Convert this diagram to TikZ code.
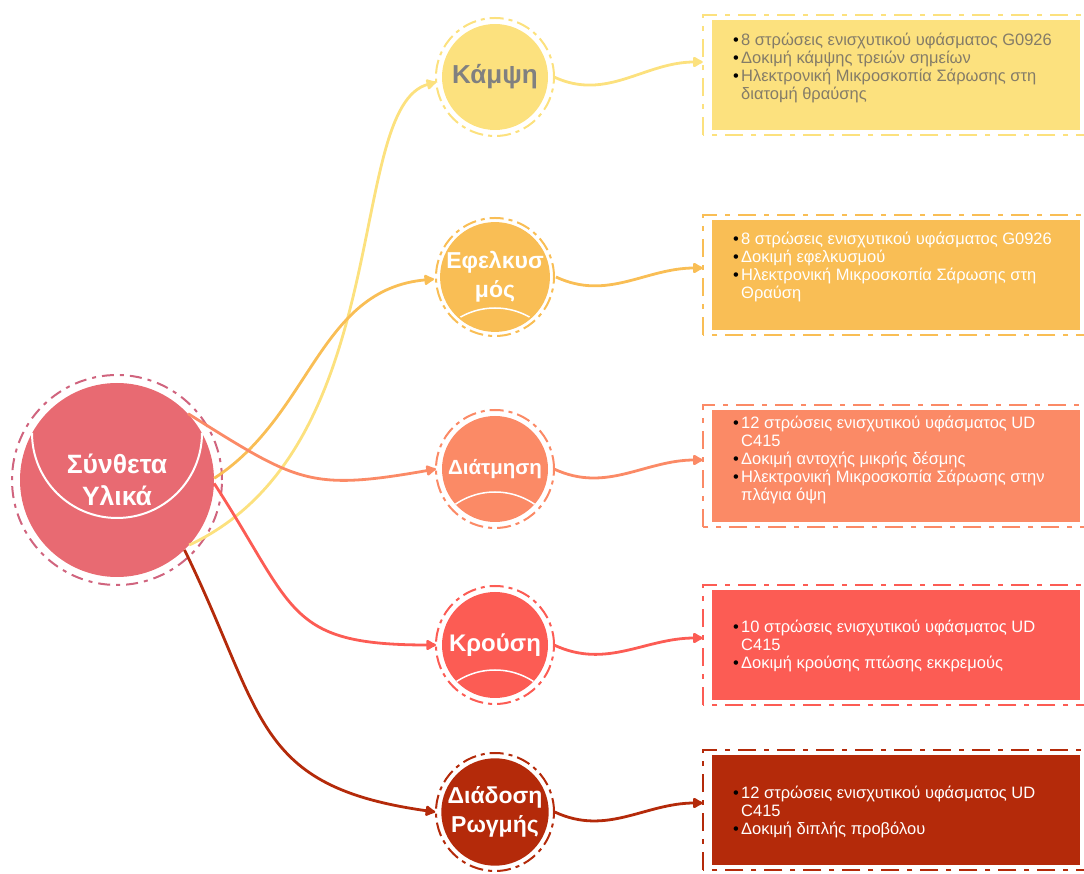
\documentclass[tikz,border=0pt]{standalone}
\usepackage{fontspec}
\setmainfont{Liberation Sans}
\usepackage{tikz}
\usetikzlibrary{calc,arrows.meta}

\definecolor{mainred}{HTML}{E86A72}
\definecolor{mainring}{HTML}{D0647E}
\definecolor{bendcol}{HTML}{FCE17E}
\definecolor{bendtext}{HTML}{847C68}
\definecolor{tenscol}{HTML}{F9BE55}
\definecolor{shearcol}{HTML}{FB8A66}
\definecolor{impcol}{HTML}{FC5C54}
\definecolor{crackcol}{HTML}{B42A0A}

\newcommand{\bul}{\makebox[8pt][l]{\textcolor{black}{•}}}
\newcommand{\ind}{\hspace*{8pt}}

\begin{document}
\begin{tikzpicture}[x=1pt,y=1pt,
    ball/.style={circle,minimum size=106pt,inner sep=0pt,outer sep=6pt,text=white,align=center},
    ring/.style={line width=2pt,dash pattern=on 14pt off 5pt on 4pt off 5pt},
    card/.style={rectangle,minimum width=368pt,minimum height=110pt,inner sep=0pt},
    cardline/.style={line width=2pt,dash pattern=on 18pt off 8pt on 5pt off 8pt},
    cardtext/.style={anchor=west,align=left,text=white,inner sep=0pt,
                     font=\fontsize{16.5}{18}\selectfont},
    link/.style={line width=2.8pt,-{Latex[length=12pt,width=13pt,round]}}]

    \useasboundingbox (0,0) rectangle (1084,873);

    % main circle
    \node[circle,fill=mainred,minimum size=194pt,inner sep=0pt,text=white,align=center,
          font=\fontsize{26.5}{32}\selectfont\bfseries] (main) at (117,393) {Σύνθετα\\Υλικά};
    \draw[white,line width=2pt] (32,440) arc (180:360:85);
    \draw[mainring,line width=2pt,dash pattern=on 12pt off 6pt on 4pt off 6pt] (main.center) circle (105);

    % test circles
    \node[ball,fill=bendcol,text=gray,font=\fontsize{26}{28}\selectfont\bfseries] (bend) at (495,796) {Κάμψη};
    \node[ball,fill=tenscol,font=\fontsize{23}{29}\selectfont\bfseries] (tens) at (495,596) {Εφελκυσ\\μός};
    \node[ball,fill=shearcol,font=\fontsize{20.5}{22}\selectfont\bfseries] (shear) at (495,404) {Διάτμηση};
    \node[ball,fill=impcol,font=\fontsize{24}{26}\selectfont\bfseries] (imp) at (495,228) {Κρούση};
    \node[ball,fill=crackcol,font=\fontsize{23}{29}\selectfont\bfseries] (crack) at (495,61) {Διάδοση\\Ρωγμής};

    \foreach \n/\d in {tens/31,shear/23,imp/25} {
        \begin{scope}
            \clip (\n.center) circle (53);
            \draw[white,line width=1.5pt] ($(\n.center)+(0,-\d-70)$) circle (70);
        \end{scope}
    }
    \foreach \n/\c in {bend/bendcol,tens/tenscol,shear/shearcol,imp/impcol,crack/crackcol}
        \draw[ring,\c] (\n.center) circle (59);

    % cards
    \node[card,fill=bendcol] (c1) at (896,798) {};
    \node[card,fill=tenscol] (c2) at (896,598) {};
    \node[card,fill=shearcol,minimum height=112pt] (c3) at (896,407) {};
    \node[card,fill=impcol] (c4) at (896,228) {};
    \node[card,fill=crackcol] (c5) at (896,63) {};
    \foreach \n/\c in {c1/bendcol,c2/tenscol,c3/shearcol,c4/impcol,c5/crackcol}
        \draw[cardline,\c] ([shift={(-9,-5)}]\n.south west) rectangle ([shift={(10,5)}]\n.north east);

    \node[cardtext,text=bendtext] (t1) at (733,805) {\bul 8 στρώσεις ενισχυτικού υφάσματος G0926\\
        \bul Δοκιμή κάμψης τρειών σημείων\\ \bul Ηλεκτρονική Μικροσκοπία Σάρωσης στη\\ \ind διατομή θραύσης};
    \node[cardtext] (t2) at (733,606) {\bul 8 στρώσεις ενισχυτικού υφάσματος G0926\\
        \bul Δοκιμή εφελκυσμού\\ \bul Ηλεκτρονική Μικροσκοπία Σάρωσης στη\\ \ind Θραύση};
    \node[cardtext] (t3) at (733,413) {\bul 12 στρώσεις ενισχυτικού υφάσματος UD\\ \ind C415\\
        \bul Δοκιμή αντοχής μικρής δέσμης\\ \bul Ηλεκτρονική Μικροσκοπία Σάρωσης στην\\ \ind πλάγια όψη};
    \node[cardtext] (t4) at (733,227) {\bul 10 στρώσεις ενισχυτικού υφάσματος UD\\ \ind C415\\
        \bul Δοκιμή κρούσης πτώσης εκκρεμούς};
    \node[cardtext] (t5) at (733,61) {\bul 12 στρώσεις ενισχυτικού υφάσματος UD\\ \ind C415\\
        \bul Δοκιμή διπλής προβόλου};

    % links from the main circle
    \draw[link,bendcol] (main.-42) .. controls +(25:230) and +(195:95) .. (bend.185);
    \draw[link,tenscol] (main.1) to[out=33,in=185] (tens.182);
    \draw[link,shearcol] (main.43) to[out=-32,in=190,looseness=1.3] (shear.180);
    \draw[link,impcol] (main.-2) to[out=-57,in=180,looseness=1.4] (imp.180);
    \draw[link,crackcol] (main.-46) to[out=-64,in=172,looseness=1.3] (crack.180);

    % links to the cards
    \foreach \a/\b/\c/\s in {bend/c1/bendcol/13pt,tens/c2/tenscol/7pt,shear/c3/shearcol/6pt,
                             imp/c4/impcol/7pt,crack/c5/crackcol/7pt}
        \draw[link,\c] (\a.east) to[out=-25,in=180] ([xshift=-9pt,yshift=\s]\b.west);
\end{tikzpicture}
\end{document}
